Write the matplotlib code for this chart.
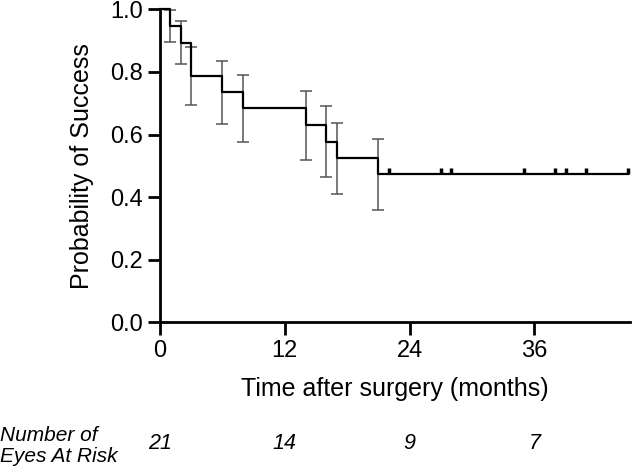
import numpy as np
import matplotlib.pyplot as plt
from matplotlib.transforms import blended_transform_factory

plt.rcParams['font.family'] = ['Liberation Sans', 'DejaVu Sans']

# Kaplan-Meier estimate
event_times = [1, 2, 3, 6, 8, 14, 16, 17, 21]
surv = [0.947, 0.893, 0.787, 0.737, 0.684, 0.629, 0.576, 0.524, 0.474]
ci_low = [0.896, 0.825, 0.694, 0.634, 0.576, 0.519, 0.464, 0.411, 0.359]
ci_high = [0.998, 0.963, 0.881, 0.836, 0.789, 0.740, 0.690, 0.638, 0.586]
censor_times = [22, 27, 28, 35, 38, 39, 41, 45]

risk_times = [0, 12, 24, 36]
risk_counts = ['21', '14', '9', '7']
xticks = [0, 12, 24, 36]
yticks = [0.0, 0.2, 0.4, 0.6, 0.8, 1.0]

fig = plt.figure(figsize=(6.32, 4.71), dpi=100)
ax = fig.add_axes([0.253, 0.316, 0.744, 0.664])

# step curve
xs = [0] + event_times + [censor_times[-1]]
ys = [1.0] + surv + [surv[-1]]
ax.step(xs, ys, where='post', color='black', lw=1.6, clip_on=False, zorder=3)

# confidence intervals at each event
lo = np.array(ci_low)
hi = np.array(ci_high)
ax.errorbar(event_times, (lo + hi) / 2, yerr=(hi - lo) / 2, fmt='none',
            ecolor='#555555', elinewidth=1.1, capsize=4, capthick=1.1,
            clip_on=False, zorder=2)

# censored marks
cens_y = [surv[-1]] * len(censor_times)
ax.plot(censor_times, cens_y, linestyle='none', marker=2, markersize=4,
        markeredgewidth=2.5, color='black', clip_on=False, zorder=4)

ax.set_xlim(0, 45.2)
ax.set_ylim(0, 1.0)
ax.set_xticks(xticks)
ax.set_yticks(yticks)
ax.set_yticklabels(['%.1f' % v for v in yticks])
for s in ['top', 'right']:
    ax.spines[s].set_visible(False)
for s in ['left', 'bottom']:
    ax.spines[s].set_linewidth(2.0)
ax.tick_params(axis='x', length=9, width=2.0, labelsize=17, pad=4)
ax.tick_params(axis='y', length=9, width=2.0, labelsize=17, pad=3)

ax.set_xlabel('Time after surgery (months)', fontsize=18, labelpad=11)
ax.set_ylabel('Probability of Success', fontsize=18, labelpad=12)

# number at risk row
trans = blended_transform_factory(ax.transData, fig.transFigure)
for t, n in zip(risk_times, risk_counts):
    ax.text(t, 0.059, n, transform=trans, ha='center', va='center',
            fontsize=15.5, style='italic', clip_on=False)
fig.text(0.0, 0.053, 'Number of\nEyes At Risk', ha='left', va='center',
         fontsize=15, style='italic', linespacing=1.15)

fig.savefig('out.png', dpi=100)
